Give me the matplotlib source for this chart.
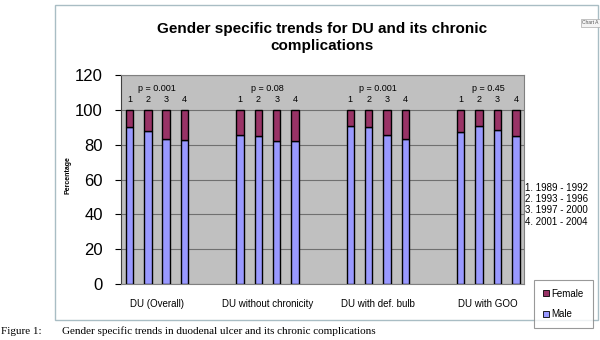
import matplotlib.pyplot as plt
from matplotlib.patches import Rectangle

plt.rcParams['font.family'] = ['Liberation Sans', 'DejaVu Sans']

categories = ['DU (Overall)', 'DU without chronicity', 'DU with def. bulb', 'DU with GOO']
periods = ['1', '2', '3', '4']
period_names = ['1. 1989 - 1992', '2. 1993 - 1996', '3. 1997 - 2000', '4. 2001 - 2004']
p_values = ['p = 0.001', 'p = 0.08', 'p = 0.001', 'p = 0.45']

# percentage of male / female patients, one row per category, one column per period
male = [[90, 88, 83.5, 82.5],
        [85.5, 85, 82, 82],
        [91, 90, 85.5, 83],
        [87.5, 91, 88.5, 85]]
female = [[10, 12, 16.5, 17.5],
          [14.5, 15, 18, 18],
          [9, 10, 14.5, 17],
          [12.5, 9, 11.5, 15]]

male_color = '#9999ff'
female_color = '#993366'

fig = plt.figure(figsize=(6, 3.4), dpi=100)
ax = fig.add_axes([121/600, 1-284/340, 403/600, 209/340])
ax.set_facecolor('#c0c0c0')

# chart area border
fig.patches.append(Rectangle((55/600, 1-320/340), 543/600, 315/340, transform=fig.transFigure,
                             fill=False, edgecolor='#a9bdc4', linewidth=1))

slot = 6  # 4 bars + 2 empty slots per group
w = 0.41
for g in range(len(categories)):
    xs = [g*slot + j for j in range(len(periods))]
    bm = ax.bar(xs, male[g], w, color=male_color, edgecolor='black', linewidth=1.0, zorder=3)
    bf = ax.bar(xs, female[g], w, bottom=male[g], color=female_color, edgecolor='black',
                linewidth=1.0, zorder=3)
    for x, lab in zip(xs, periods):
        ax.text(x, 105.7, lab, ha='center', va='center', fontsize=6.5)
    ax.text(g*slot + 1.5, 112, p_values[g], ha='center', va='center', fontsize=6.5)

ax.set_xlim(-0.46, 21.44)
ax.set_ylim(0, 120)
ax.set_yticks(range(0, 121, 20))
ax.yaxis.grid(True, color='#707070', linewidth=0.8, zorder=0)
ax.set_axisbelow(True)
ax.tick_params(axis='y', labelsize=12, length=4, width=0.8, pad=9)
ax.set_xticks([g*slot + 1.5 for g in range(len(categories))])
ax.set_xticklabels(categories, fontsize=7)
ax.tick_params(axis='x', length=0, pad=11)
for s in ['top', 'right', 'bottom']:
    ax.spines[s].set_color('#808080')
ax.spines['left'].set_color('#404040')

fig.text(68/600, 1-175/340, 'Percentage', rotation=90, ha='center', va='center',
         fontsize=5, fontweight='bold')

fig.text(322/600, 1-37.5/340, 'Gender specific trends for DU and its chronic\ncomplications',
         ha='center', va='center', fontsize=11, fontweight='bold', linespacing=1.35)

for i, name in enumerate(period_names):
    fig.text(525/600, 1-(188 + i*11.2)/340, name, ha='left', va='center', fontsize=7)

handles = [Rectangle((0, 0), 1, 1, facecolor=female_color, edgecolor='black', linewidth=0.6),
           Rectangle((0, 0), 1, 1, facecolor=male_color, edgecolor='black', linewidth=0.6)]
leg = fig.legend(handles, ['Female', 'Male'], loc='upper left',
                 bbox_to_anchor=(534/600, 1-280/340), fontsize=7, frameon=True,
                 fancybox=False, handlelength=0.6, handleheight=0.6, handletextpad=0.3,
                 labelspacing=1.1, borderpad=0.9, borderaxespad=0)
leg.get_frame().set_edgecolor('#808080')
leg.get_frame().set_linewidth(0.8)

# small tooltip at the top right corner
fig.text(582/600, 1-23/340, 'Chart A', fontsize=3.5, color='#555555', ha='left', va='center',
         bbox=dict(facecolor='#f4f4f4', edgecolor='#aaaaaa', linewidth=0.5, pad=1))

fig.text(0.002, 1-331/340, 'Figure 1:', fontsize=8, family='Liberation Serif', va='center')
fig.text(62/600, 1-331/340, 'Gender specific trends in duodenal ulcer and its chronic complications',
         fontsize=8, family='Liberation Serif', va='center')

fig.savefig('out.png', dpi=100)
